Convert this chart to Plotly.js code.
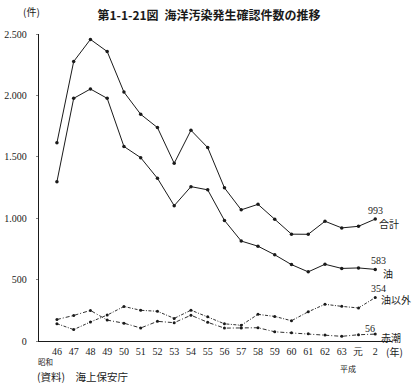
<!DOCTYPE html>
<html>
<head>
<meta charset="utf-8">
<script src="https://cdn.plot.ly/plotly-3.0.1.min.js"></script>
<style>html,body{margin:0;padding:0;background:#fff;}#chart{width:418px;height:388px;}</style>
</head>
<body>
<div id="chart"></div>
<script>
const categories = ['46','47','48','49','50','51','52','53','54','55','56','57','58','59','60','61','62','63','元','2'];
const total   = [1614, 2276, 2456, 2357, 2027, 1846, 1738, 1447, 1716, 1575, 1247, 1068, 1113, 992, 870, 869, 975, 921, 934, 993];
const oil     = [1297, 1976, 2052, 1976, 1584, 1493, 1325, 1102, 1257, 1231, 982, 814, 772, 702, 622, 563, 625, 591, 595, 583];
const nonOil  = [141, 93, 155, 211, 281, 250, 242, 184, 251, 198, 140, 128, 217, 200, 165, 238, 299, 282, 269, 354];
const redTide = [175, 208, 249, 170, 145, 106, 160, 149, 210, 152, 105, 106, 108, 75, 67, 60, 48, 38, 51, 56];
const yTickVals = [0, 500, 1000, 1500, 2000, 2500];
const yTickText = ['0', '500', '1.000', '1.500', '2.000', '2.500'];

const W = 418, H = 388, L = 39, R = 26, T = 34, B = 47;
const PW = W - L - R, PH = H - T - B;
const px = x => (x - L) / PW;
const py = y => (H - B - y) / PH;

const serif = 'Liberation Serif, DejaVu Serif, serif';
const cjk = 'Noto Sans CJK JP, sans-serif';
const ink = '#1a1a1a';

function solid(y) {
  return {x: categories, y: y, type: 'scatter', mode: 'lines+markers',
    line: {color: ink, width: 1.0}, marker: {color: ink, size: 3.5}, hoverinfo: 'skip'};
}
function dashed(y, dash) {
  return {x: categories, y: y, type: 'scatter', mode: 'lines+markers',
    line: {color: ink, width: 0.9, dash: dash}, marker: {color: ink, size: 3}, hoverinfo: 'skip'};
}
const data = [solid(total), solid(oil), dashed(nonOil, '3px,1.5px,1px,1.5px'), dashed(redTide, '4px,2px,1px,2px')];

function ann(text, x, y, size, font, xanchor) {
  return {text: text, x: px(x), y: py(y), xref: 'paper', yref: 'paper', showarrow: false,
    xanchor: xanchor || 'center', yanchor: 'middle', font: {family: font || cjk, size: size || 10, color: ink}};
}

const layout = {
  width: W, height: H,
  margin: {l: L, r: R, t: T, b: B, pad: 0},
  paper_bgcolor: '#fff', plot_bgcolor: '#fff',
  showlegend: false,
  title: {text: '<b>第1-1-21図\u2002海洋汚染発生確認件数の推移</b>', font: {family: cjk, size: 12, color: ink},
    xref: 'container', x: 0.5, xanchor: 'center', yref: 'container', y: 1 - 15.7 / H, yanchor: 'middle'},
  xaxis: {type: 'category', range: [-1.07, 20.0], showgrid: false, zeroline: false,
    showline: true, linecolor: ink, linewidth: 1.2, ticks: '', ticklabelstandoff: 1,
    tickfont: {family: serif, size: 10, color: ink}, fixedrange: true},
  yaxis: {range: [0, 2500], tickvals: yTickVals, ticktext: yTickText, showgrid: false, zeroline: false,
    showline: true, linecolor: ink, linewidth: 1.2, ticks: 'outside', ticklen: 2, tickcolor: '#888',
    ticklabelstandoff: 7,
    tickfont: {family: serif, size: 10, color: ink}, fixedrange: true},
  annotations: [
    ann('(件)', 31, 12, 10),
    ann('993', 375, 210, 10, serif),
    ann('合計', 389, 223, 10),
    ann('583', 378, 260, 10, serif),
    ann('油', 388, 273, 10),
    ann('354', 378, 288, 10, serif),
    ann('油以外', 396, 299, 10),
    ann('56', 370, 328, 10, serif),
    ann('赤潮', 391, 337, 10),
    ann('(年)', 394, 351, 10),
    ann('昭和', 45, 361.5, 7.5),
    ann('平成', 348, 368, 8),
    ann('(資料)\u3000海上保安庁', 35, 376.5, 10.5, cjk, 'left')
  ]
};

Plotly.newPlot('chart', data, layout, {staticPlot: true, displayModeBar: false});
</script>
</body>
</html>
